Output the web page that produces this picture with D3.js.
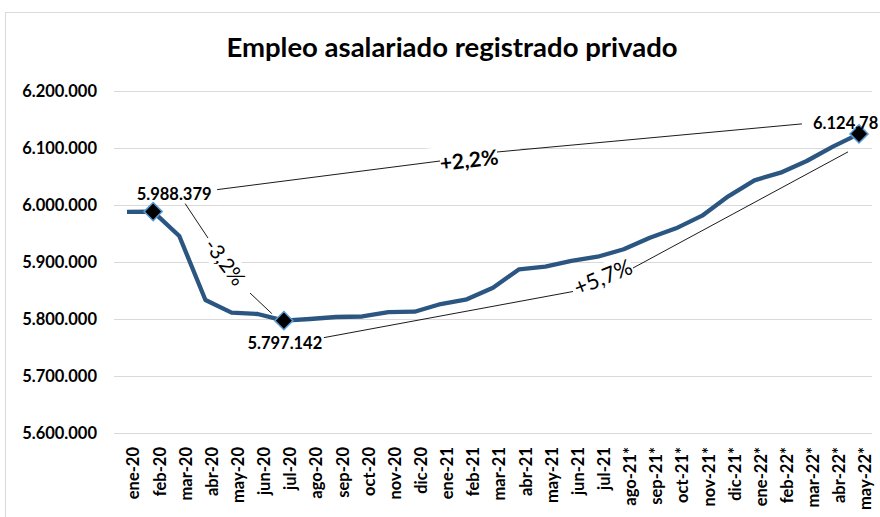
<!DOCTYPE html>
<html>
<head>
<meta charset="utf-8">
<script src="https://cdn.jsdelivr.net/npm/d3@7"></script>
<style>
  body { margin: 0; background: #fff; }
  text { font-family: Lato, "Open Sans", sans-serif; }
</style>
</head>
<body>
<svg id="chart"></svg>
<script>
// meses del eje x
const meses = ["ene-20","feb-20","mar-20","abr-20","may-20","jun-20","jul-20","ago-20","sep-20","oct-20","nov-20","dic-20",
  "ene-21","feb-21","mar-21","abr-21","may-21","jun-21","jul-21","ago-21*","sep-21*","oct-21*","nov-21*","dic-21*",
  "ene-22*","feb-22*","mar-22*","abr-22*","may-22*"];

// empleo asalariado registrado privado
const empleo = [5988100, 5988379, 5945600, 5833300, 5811100, 5808800, 5797142, 5800000, 5803500, 5804400, 5812000, 5812800,
  5826300, 5834500, 5854900, 5887200, 5891800, 5901800, 5909300, 5922300, 5942600, 5959100, 5981300, 6015200,
  6043300, 6056700, 6077200, 6102300, 6124780];

const yTicks = [5600000, 5700000, 5800000, 5900000, 6000000, 6100000, 6200000];

// puntos destacados y variaciones
const destacados = ["feb-20", "jul-20", "may-22*"];
const etiquetas = ["5.988.379", "5.797.142", "6.124.78"];
const variaciones = ["+2,2%", "-3,2%", "+5,7%"];

const W = 880, H = 517;
const svg = d3.select("#chart").attr("width", W).attr("height", H);

const fmt = d3.formatLocale({decimal: ",", thousands: ".", grouping: [3], currency: ["$", ""]}).format(",d");

const x = d3.scalePoint().domain(meses).range([127, 859]);
const y = d3.scaleLinear().domain([5600000, 6200000]).range([433, 91]);
const gridL = 114, gridR = 872;

// marco del grafico
svg.append("rect").attr("x", 5.5).attr("y", 12.5).attr("width", W).attr("height", H)
  .attr("fill", "none").attr("stroke", "#d9d9d9");

svg.append("text").attr("x", 452).attr("y", 57).attr("text-anchor", "middle")
  .attr("font-size", 27.5).attr("font-weight", "bold").attr("fill", "#000")
  .text("Empleo asalariado registrado privado");

// grilla + eje y
const yAxis = svg.append("g").attr("transform", `translate(${gridL},0)`)
  .call(d3.axisLeft(y).tickValues(yTicks).tickFormat(fmt).tickSize(-(gridR - gridL)).tickPadding(17));
yAxis.select(".domain").remove();
yAxis.selectAll(".tick line").attr("stroke", "#d9d9d9");
yAxis.selectAll(".tick text").attr("font-size", 16.5).attr("font-weight", "bold").attr("fill", "#000")
  .attr("font-family", "Lato, sans-serif");

// eje x
const xAxis = svg.append("g").attr("transform", `translate(0,${y(5600000)})`)
  .call(d3.axisBottom(x).tickSize(0));
xAxis.select(".domain").remove();
xAxis.selectAll(".tick text")
  .attr("font-size", 16.5).attr("font-weight", "bold").attr("fill", "#000").attr("font-family", "Lato, sans-serif")
  .attr("text-anchor", "end")
  .attr("transform", "rotate(-90)")
  .attr("x", -14).attr("y", 0).attr("dy", "0.72em").attr("dx", 0);

// cajas blancas detras de las variaciones
const notas = [
  {t: variaciones[0], cx: 469, cy: 160, rot: -6.5, w: 105, h: 32, bold: true, size: 21},
  {t: variaciones[1], cx: 225, cy: 262, rot: 53, w: 58, h: 26, bold: false, size: 20.5},
  {t: variaciones[2], cx: 603, cy: 277, rot: -22, w: 62, h: 26, bold: false, size: 22}
];
notas.forEach(n => {
  svg.append("rect").attr("x", -n.w / 2).attr("y", -n.h / 2).attr("width", n.w).attr("height", n.h)
    .attr("fill", "#fff").attr("transform", `translate(${n.cx},${n.cy}) rotate(${n.rot})`);
});

// conectores
const p0 = [x(destacados[0]), y(empleo[meses.indexOf(destacados[0])])];
const p1 = [x(destacados[1]), y(empleo[meses.indexOf(destacados[1])])];
const p2 = [x(destacados[2]), y(empleo[meses.indexOf(destacados[2])])];
const segs = [
  [[p0[0] + 64, p0[1] - 22], [440, 161]],
  [[497, 152], [p2[0] - 57, p2[1] - 10]],
  [[p0[0] + 32, p0[1] - 8], [208, 238]],
  [[250, 293], [p1[0] - 12, p1[1] - 7]],
  [[p1[0] + 40, p1[1] + 17], [573, 291.5]],
  [[633, 268], [p2[0] - 11, p2[1] + 18]]
];
svg.append("g").selectAll("line").data(segs).join("line")
  .attr("x1", d => d[0][0]).attr("y1", d => d[0][1])
  .attr("x2", d => d[1][0]).attr("y2", d => d[1][1])
  .attr("stroke", "#000").attr("stroke-width", 0.9);

// linea
svg.append("path").datum(empleo)
  .attr("fill", "none").attr("stroke", "#2c5682").attr("stroke-width", 4.3).attr("stroke-linejoin", "round")
  .attr("d", d3.line().x((d, i) => x(meses[i])).y(d => y(d)));

// marcadores
svg.append("g").selectAll("path").data(destacados).join("path")
  .attr("d", d3.symbol(d3.symbolDiamond2, 210)())
  .attr("transform", d => `translate(${x(d)},${y(empleo[meses.indexOf(d)])})`)
  .attr("fill", "#000").attr("stroke", "#5b9bd5").attr("stroke-width", 1.5);

// etiquetas de los puntos
const labPos = [[p0[0] + 21, p0[1] - 12, "middle"], [p1[0] + 1, p1[1] + 28, "middle"], [p2[0] - 46, p2[1] - 5, "start"]];
svg.append("g").selectAll("text").data(etiquetas).join("text")
  .attr("x", (d, i) => labPos[i][0]).attr("y", (d, i) => labPos[i][1])
  .attr("text-anchor", (d, i) => labPos[i][2])
  .attr("font-size", 16.5).attr("font-weight", "bold").attr("fill", "#000")
  .text(d => d);

notas.forEach(n => {
  svg.append("text").attr("transform", `translate(${n.cx},${n.cy}) rotate(${n.rot})`)
    .attr("text-anchor", "middle").attr("dy", "0.36em")
    .attr("font-size", n.size).attr("font-weight", n.bold ? "bold" : "normal").attr("fill", "#000")
    .text(n.t);
});
</script>
</body>
</html>
